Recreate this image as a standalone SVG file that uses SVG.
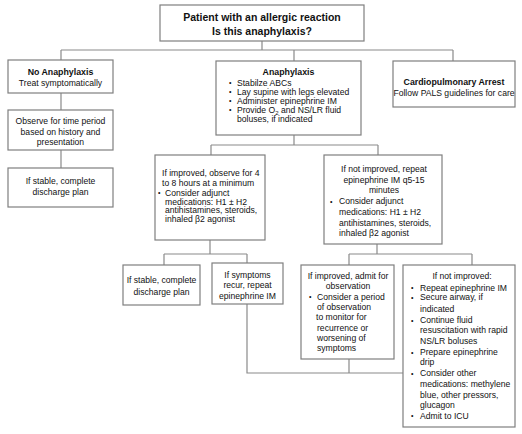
<svg xmlns="http://www.w3.org/2000/svg" width="522" height="434" viewBox="0 0 522 434">
<style>
.box{fill:#fff;stroke:#7f7f7f;stroke-width:1.2}
.ln{fill:none;stroke:#8a8a8a;stroke-width:1.2}
text{font-family:"Liberation Sans",Arial,sans-serif;font-size:8.6px;fill:#111}
.b{font-weight:bold;font-size:8.8px}
.t{font-size:10.5px;font-weight:bold}
.c{text-anchor:middle}
.d{font-size:7px}
</style>
<rect width="522" height="434" fill="#fff"/>
<g id="connectors">
<path class="ln" d="M262 41V50M61 50H453M61 50V60M294 50V61M453 50V61"/>
<path class="ln" d="M61 93V110M61 150V168"/>
<path class="ln" d="M294 135V145M211 145H378M211 145V155M378 145V155"/>
<path class="ln" d="M210 240V254M164 254H247M164 254V265M247 254V263"/>
<path class="ln" d="M377 244V254M349 254H472M349 254V265M472 254V265"/>
<path class="ln" d="M247 304V373H403M349 359V373"/>
</g>
<g id="start">
<rect class="box" x="160" y="5" width="204" height="36"/>
<text class="t c" x="262" y="21">Patient with an allergic reaction</text>
<text class="t c" x="262" y="35">Is this anaphylaxis?</text>
</g>
<g id="no-anaphylaxis">
<rect class="box" x="8" y="60" width="105" height="33"/>
<text class="b c" x="60.5" y="75">No Anaphylaxis</text>
<text class="c" x="60.5" y="86">Treat symptomatically</text>
</g>
<g id="observe">
<rect class="box" x="8" y="110" width="105" height="40"/>
<text class="c" x="60.5" y="124">Observe for time period</text>
<text class="c" x="60.5" y="134.5">based on history and</text>
<text class="c" x="60.5" y="145">presentation</text>
</g>
<g id="stable-left">
<rect class="box" x="8" y="168" width="105" height="39"/>
<text class="c" x="60.5" y="184">If stable, complete</text>
<text class="c" x="60.5" y="195">discharge plan</text>
</g>
<g id="anaphylaxis">
<rect class="box" x="216" y="61" width="145" height="74"/>
<text class="b c" x="288.5" y="75">Anaphylaxis</text>
<text class="d" x="229" y="85">•</text><text x="237" y="85.5">Stabilze ABCs</text>
<text class="d" x="229" y="94">•</text><text x="237" y="94.5">Lay supine with legs elevated</text>
<text class="d" x="229" y="103">•</text><text x="237" y="103.5">Administer epinephrine IM</text>
<text class="d" x="229" y="112">•</text><text x="237" y="112.5">Provide O<tspan font-size="6" dy="2">2</tspan><tspan dy="-2"> and NS/LR fluid</tspan></text>
<text x="237" y="122">boluses, if indicated</text>
</g>
<g id="cardiopulmonary-arrest">
<rect class="box" x="393" y="61" width="122" height="46"/>
<text class="b c" x="454" y="85">Cardiopulmonary Arrest</text>
<text class="c" x="454" y="95.5">Follow PALS guidelines for care</text>
</g>
<g id="improved-observe">
<rect class="box" x="155" y="155" width="110" height="85"/>
<text x="162" y="176">If improved, observe for 4</text>
<text x="162" y="186">to 8 hours at a minimum</text>
<text class="d" x="158" y="195">•</text><text x="165" y="195.5">Consider adjunct</text>
<text x="165" y="204.5">medications: H1 ± H2</text>
<text x="165" y="213">antihistamines, steroids,</text>
<text x="165" y="222">inhaled β2 agonist</text>
</g>
<g id="not-improved-repeat">
<rect class="box" x="324" y="155" width="118" height="89"/>
<text class="c" x="384" y="171.5">If not improved, repeat</text>
<text class="c" x="384" y="182.5">epinephrine IM q5-15</text>
<text class="c" x="384" y="193">minutes</text>
<text class="d" x="330" y="203.5">•</text><text x="339" y="204">Consider adjunct</text>
<text x="339" y="214.5">medications: H1 ± H2</text>
<text x="339" y="225.5">antihistamines, steroids,</text>
<text x="339" y="236">inhaled β2 agonist</text>
</g>
<g id="stable-discharge">
<rect class="box" x="123" y="265" width="77" height="40"/>
<text class="c" x="161.5" y="283">If stable, complete</text>
<text class="c" x="161.5" y="294.5">discharge plan</text>
</g>
<g id="symptoms-recur">
<rect class="box" x="212" y="263" width="71" height="41"/>
<text class="c" x="247.5" y="277.5">If symptoms</text>
<text class="c" x="247.5" y="288">recur, repeat</text>
<text class="c" x="247.5" y="298.5">epinephrine IM</text>
</g>
<g id="improved-admit">
<rect class="box" x="301" y="265" width="93" height="94"/>
<text class="c" x="348" y="278.5">If improved, admit for</text>
<text class="c" x="348" y="288.5">observation</text>
<text class="d" x="309" y="299">•</text><text x="317" y="299.5">Consider a period</text>
<text x="317" y="309.5">of observation</text>
<text x="316" y="320">to monitor for</text>
<text x="317" y="330.5">recurrence or</text>
<text x="317" y="340.5">worsening of</text>
<text x="317" y="350.5">symptoms</text>
</g>
<g id="not-improved">
<rect class="box" x="403" y="265" width="112" height="162"/>
<text class="c" x="462" y="278.5">If not improved:</text>
<text class="d" x="411" y="290">•</text><text x="420" y="290.5">Repeat epinephrine IM</text>
<text class="d" x="411" y="299.5">•</text><text x="420" y="300">Secure airway, if</text>
<text x="420" y="312">indicated</text>
<text class="d" x="411" y="322.5">•</text><text x="420" y="323">Continue fluid</text>
<text x="420" y="333">resuscitation with rapid</text>
<text x="420" y="343.5">NS/LR boluses</text>
<text class="d" x="411" y="354.5">•</text><text x="420" y="355">Prepare epinephrine</text>
<text x="420" y="365">drip</text>
<text class="d" x="411" y="375.5">•</text><text x="420" y="376">Consider other</text>
<text x="420" y="386.5">medications: methylene</text>
<text x="420" y="397.5">blue, other pressors,</text>
<text x="420" y="407.5">glucagon</text>
<text class="d" x="411" y="418">•</text><text x="420" y="418.5">Admit to ICU</text>
</g>
</svg>
